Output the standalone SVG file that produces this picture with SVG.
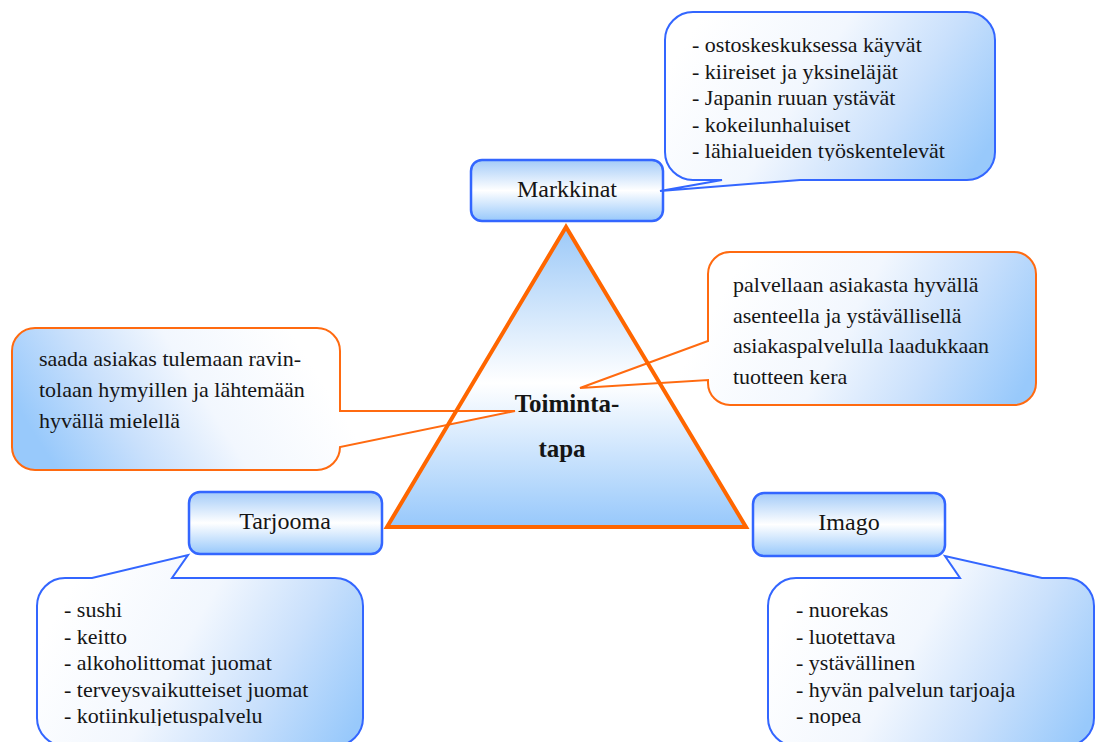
<svg xmlns="http://www.w3.org/2000/svg" width="1095" height="742" viewBox="0 0 1095 742">
  <defs>
    <style>
      .txt { font-family: "Liberation Serif", "Times New Roman", serif; fill: #151515; }
      .lbl { font-size: 24px; text-anchor: middle; }
      .body { font-size: 22px; }
      .core { font-size: 25px; font-weight: bold; text-anchor: middle; }
      .box { stroke: #3366FF; stroke-width: 2.5; fill: url(#gNode); }
      .blueCallout { stroke: #3366FF; stroke-width: 2; stroke-linejoin: miter; }
      .orangeCallout { stroke: #FF6A10; stroke-width: 2; stroke-linejoin: miter; }
    </style>
    <!-- vertical blue-white-blue fill for the four boxes -->
    <linearGradient id="gNode" x1="0" y1="0" x2="0" y2="1">
      <stop offset="0" stop-color="#A3CBF8"/>
      <stop offset="0.5" stop-color="#FFFFFF"/>
      <stop offset="1" stop-color="#97C8FB"/>
    </linearGradient>
    <linearGradient id="gTri" x1="0" y1="0" x2="0" y2="1">
      <stop offset="0" stop-color="#9CC9F8"/>
      <stop offset="0.52" stop-color="#FFFFFF"/>
      <stop offset="1" stop-color="#97C8FB"/>
    </linearGradient>
    <!-- diagonal white-to-blue fills for the speech bubbles -->
    <linearGradient id="gMark" gradientUnits="userSpaceOnUse" x1="700" y1="20" x2="960" y2="190">
      <stop offset="0" stop-color="#FFFFFF"/>
      <stop offset="0.4" stop-color="#F2F7FE"/>
      <stop offset="0.7" stop-color="#C9E0FC"/>
      <stop offset="1" stop-color="#98C9FB"/>
    </linearGradient>
    <linearGradient id="gRight" gradientUnits="userSpaceOnUse" x1="740" y1="262" x2="1010" y2="412">
      <stop offset="0" stop-color="#FFFFFF"/>
      <stop offset="0.4" stop-color="#F2F7FE"/>
      <stop offset="0.7" stop-color="#C9E0FC"/>
      <stop offset="1" stop-color="#98C9FB"/>
    </linearGradient>
    <linearGradient id="gLeft" gradientUnits="userSpaceOnUse" x1="290" y1="330" x2="60" y2="475">
      <stop offset="0" stop-color="#FFFFFF"/>
      <stop offset="0.4" stop-color="#F2F7FE"/>
      <stop offset="0.7" stop-color="#C9E0FC"/>
      <stop offset="1" stop-color="#98C9FB"/>
    </linearGradient>
    <linearGradient id="gTar" gradientUnits="userSpaceOnUse" x1="70" y1="590" x2="345" y2="745">
      <stop offset="0" stop-color="#FFFFFF"/>
      <stop offset="0.4" stop-color="#F2F7FE"/>
      <stop offset="0.7" stop-color="#C9E0FC"/>
      <stop offset="1" stop-color="#98C9FB"/>
    </linearGradient>
    <linearGradient id="gIm" gradientUnits="userSpaceOnUse" x1="800" y1="590" x2="1075" y2="745">
      <stop offset="0" stop-color="#FFFFFF"/>
      <stop offset="0.4" stop-color="#F2F7FE"/>
      <stop offset="0.7" stop-color="#C9E0FC"/>
      <stop offset="1" stop-color="#98C9FB"/>
    </linearGradient>
    <!-- text frames crop the last line of the lists -->
    <clipPath id="clipMark"><rect x="665" y="12" width="330" height="149"/></clipPath>
    <clipPath id="clipTar"><rect x="37" y="578" width="326" height="148"/></clipPath>
    <clipPath id="clipIm"><rect x="768" y="578" width="326" height="148"/></clipPath>
  </defs>

  <rect width="1095" height="742" fill="#FFFFFF"/>

  <!-- central triangle body -->
  <g id="node-toimintatapa-fill">
    <polygon points="566,227 387,527 746,527" fill="url(#gTri)"/>
  </g>

  <!-- box nodes -->
  <g id="node-markkinat">
    <rect class="box" x="471" y="160" width="192" height="61" rx="11"/>
    <text class="txt lbl" x="567" y="197">Markkinat</text>
  </g>
  <g id="node-tarjooma">
    <rect class="box" x="189" y="492" width="193" height="62" rx="11"/>
    <text class="txt lbl" x="285" y="529">Tarjooma</text>
  </g>
  <g id="node-imago">
    <rect class="box" x="753" y="493" width="192" height="63" rx="11"/>
    <text class="txt lbl" x="849" y="530">Imago</text>
  </g>

  <!-- speech bubbles -->
  <g id="callout-markkinat">
    <path class="blueCallout" fill="url(#gMark)" d="M693,12 H967 A28,28 0 0 1 995,40 V152 A28,28 0 0 1 967,180 H800 L660,191 L722,180 H693 A28,28 0 0 1 665,152 V40 A28,28 0 0 1 693,12 Z"/>
    <g clip-path="url(#clipMark)">
      <text class="txt body" x="692" y="52">- ostoskeskuksessa käyvät</text>
      <text class="txt body" x="692" y="78.5">- kiireiset ja yksineläjät</text>
      <text class="txt body" x="692" y="105">- Japanin ruuan ystävät</text>
      <text class="txt body" x="692" y="131.5">- kokeilunhaluiset</text>
      <text class="txt body" x="692" y="158">- lähialueiden työskentelevät</text>
    </g>
  </g>

  <g id="callout-palvelu">
    <path class="orangeCallout" fill="url(#gRight)" d="M730,252 H1014 A22,22 0 0 1 1036,274 V383 A22,22 0 0 1 1014,405 H730 A22,22 0 0 1 708,383 V380 L580,388 L708,341 V274 A22,22 0 0 1 730,252 Z"/>
    <text class="txt body" x="733" y="292">palvellaan asiakasta hyvällä</text>
    <text class="txt body" x="733" y="322.5">asenteella ja ystävällisellä</text>
    <text class="txt body" x="733" y="353">asiakaspalvelulla laadukkaan</text>
    <text class="txt body" x="733" y="384">tuotteen kera</text>
  </g>

  <g id="callout-asiakas">
    <path class="orangeCallout" fill="url(#gLeft)" d="M35,328 H317 A23,23 0 0 1 340,351 V411 L515,411 L340,447 A23,23 0 0 1 317,470 H35 A23,23 0 0 1 12,447 V351 A23,23 0 0 1 35,328 Z"/>
    <text class="txt body" x="39" y="366">saada asiakas tulemaan ravin-</text>
    <text class="txt body" x="39" y="397">tolaan hymyillen ja lähtemään</text>
    <text class="txt body" x="39" y="428">hyvällä mielellä</text>
  </g>

  <g id="callout-tarjooma">
    <path class="blueCallout" fill="url(#gTar)" d="M65,578 H92 L188,555 L172,578 H335 A28,28 0 0 1 363,606 V718 A28,28 0 0 1 335,746 H65 A28,28 0 0 1 37,718 V606 A28,28 0 0 1 65,578 Z"/>
    <g clip-path="url(#clipTar)">
      <text class="txt body" x="64" y="617">- sushi</text>
      <text class="txt body" x="64" y="643.5">- keitto</text>
      <text class="txt body" x="64" y="670">- alkoholittomat juomat</text>
      <text class="txt body" x="64" y="696.5">- terveysvaikutteiset juomat</text>
      <text class="txt body" x="64" y="723">- kotiinkuljetuspalvelu</text>
    </g>
  </g>

  <g id="callout-imago">
    <path class="blueCallout" fill="url(#gIm)" d="M796,578 H960 L945,556 L1042,578 H1066 A28,28 0 0 1 1094,606 V718 A28,28 0 0 1 1066,746 H796 A28,28 0 0 1 768,718 V606 A28,28 0 0 1 796,578 Z"/>
    <g clip-path="url(#clipIm)">
      <text class="txt body" x="796" y="617">- nuorekas</text>
      <text class="txt body" x="796" y="643.5">- luotettava</text>
      <text class="txt body" x="796" y="670">- ystävällinen</text>
      <text class="txt body" x="796" y="696.5">- hyvän palvelun tarjoaja</text>
      <text class="txt body" x="796" y="723">- nopea</text>
    </g>
  </g>

  <!-- triangle outline and title stay on top of the bubble pointers -->
  <g id="node-toimintatapa">
    <polygon points="566,227 387,527 746,527" fill="none" stroke="#FF6600" stroke-width="4" stroke-linejoin="miter"/>
    <text class="txt core" x="567" y="412">Toiminta-</text>
    <text class="txt core" x="562" y="457">tapa</text>
  </g>
</svg>
